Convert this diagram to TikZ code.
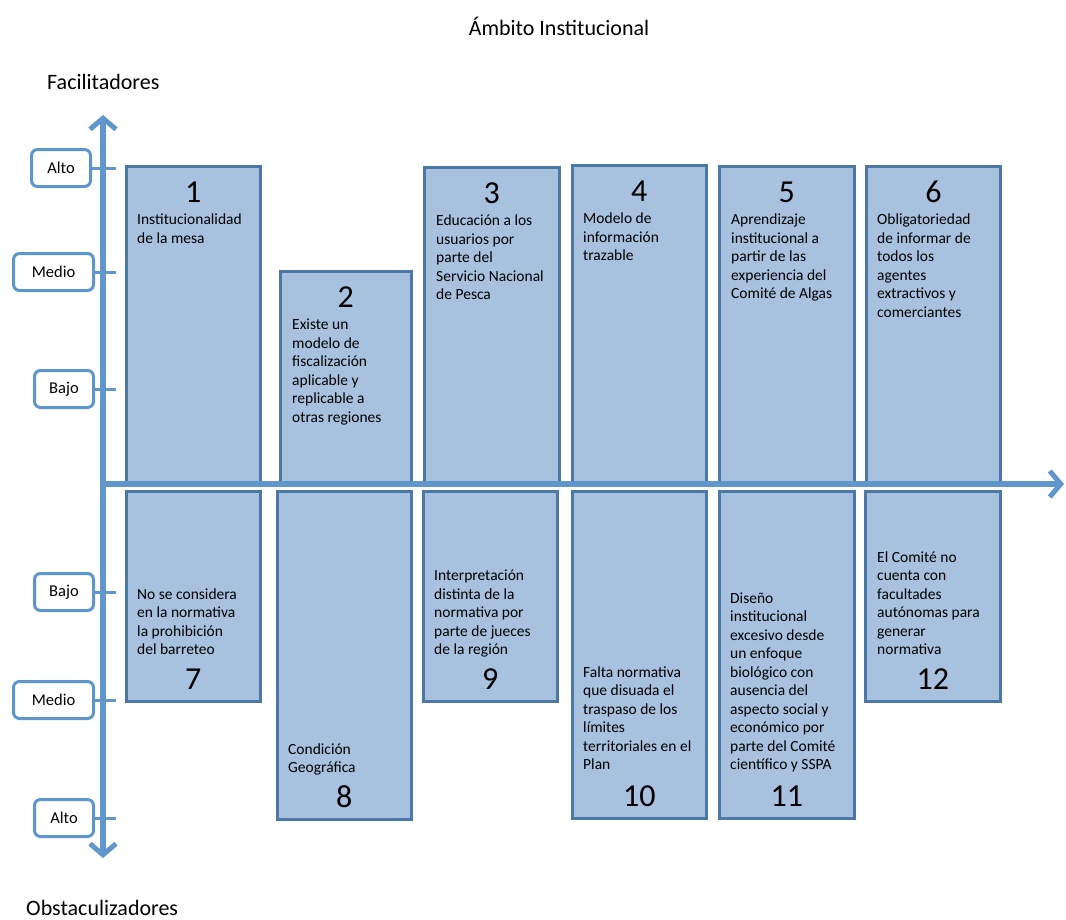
\documentclass[tikz,border=0pt]{standalone}
\usepackage{fontspec}
\setmainfont{Carlito}
\usetikzlibrary{arrows.meta}
\definecolor{axisblue}{HTML}{6196CC}
\definecolor{boxfill}{HTML}{A7C1DF}
\definecolor{boxline}{HTML}{4C78A5}
\definecolor{lblline}{HTML}{5C96CD}
\tikzset{
  box/.style={draw=boxline, line width=2.7pt, fill=boxfill, anchor=north west, inner sep=0pt},
  num/.style={font=\fontsize{32}{32}\selectfont, anchor=base, inner sep=0pt},
  toptxt/.style={font=\fontsize{15.5}{18.5}\selectfont, align=left, inner sep=0pt, anchor=north west},
  bottxt/.style={font=\fontsize{15.5}{18.5}\selectfont, align=left, inner sep=0pt, anchor=south west, text depth=0pt},
  lbl/.style={draw=lblline, line width=3pt, fill=white, rounded corners=6pt, font=\fontsize{16.5}{18}\selectfont, inner sep=0pt, anchor=north west},
  axis/.style={draw=axisblue, line width=5.5pt},
  tickline/.style={draw=axisblue, line width=3pt},
  plain/.style={font=\fontsize{22}{24}\selectfont, inner sep=0pt},
  barb/.tip={Straight Barb[length=11pt,width=26pt,line width=5pt]}
}
\begin{document}
\begin{tikzpicture}[x=1pt,y=-1pt]
\useasboundingbox (0,0) rectangle (1066,919);

% titles
\node[plain, anchor=base] (title) at (559,35) {Ámbito Institucional};
\node[plain, anchor=base west] (fac) at (47,89) {Facilitadores};
\node[plain, anchor=base west] (obs) at (26,915) {Obstaculizadores};

% top boxes
\node[box, minimum width=134pt, minimum height=317pt] (b1) at (125,165) {};
\node[box, minimum width=131pt, minimum height=212pt] (b2) at (279,270) {};
\node[box, minimum width=135pt, minimum height=316pt] (b3) at (423,166) {};
\node[box, minimum width=134pt, minimum height=318pt] (b4) at (571,164) {};
\node[box, minimum width=135pt, minimum height=317pt] (b5) at (718,165) {};
\node[box, minimum width=134pt, minimum height=317pt] (b6) at (865,165) {};

\foreach \b/\n in {b1/1,b2/2,b3/3,b4/4,b5/5,b6/6}{
  \node[num] (\b num) at ([yshift=-37.5pt]\b.north) {\n};
}
\node[toptxt] (t1) at ([xshift=12pt,yshift=-49pt]b1.north west) {Institucionalidad\\de la mesa};
\node[toptxt] (t2) at ([xshift=13pt,yshift=-49pt]b2.north west) {Existe un\\modelo de\\fiscalización\\aplicable y\\replicable a\\otras regiones};
\node[toptxt] (t3) at ([xshift=13pt,yshift=-49pt]b3.north west) {Educación a los\\usuarios por\\parte del\\Servicio Nacional\\de Pesca};
\node[toptxt] (t4) at ([xshift=12pt,yshift=-49pt]b4.north west) {Modelo de\\información\\trazable};
\node[toptxt] (t5) at ([xshift=13pt,yshift=-49pt]b5.north west) {Aprendizaje\\institucional a\\partir de las\\experiencia del\\Comité de Algas};
\node[toptxt] (t6) at ([xshift=12pt,yshift=-49pt]b6.north west) {Obligatoriedad\\de informar de\\todos los\\agentes\\extractivos y\\comerciantes};

% bottom boxes
\node[box, minimum width=134pt, minimum height=210pt] (b7) at (125,490) {};
\node[box, minimum width=134pt, minimum height=328pt] (b8) at (276,490) {};
\node[box, minimum width=134pt, minimum height=210pt] (b9) at (422,490) {};
\node[box, minimum width=134pt, minimum height=327pt] (b10) at (571,490) {};
\node[box, minimum width=135pt, minimum height=327pt] (b11) at (718,490) {};
\node[box, minimum width=135pt, minimum height=210pt] (b12) at (864,490) {};

\foreach \b/\n in {b7/7,b8/8,b9/9,b10/10,b11/11,b12/12}{
  \node[num] (\b num) at ([yshift=13pt]\b.south) {\n};
}
\node[bottxt] (t7) at ([xshift=12pt,yshift=48pt]b7.south west) {No se considera\\en la normativa\\la prohibición\\del barreteo};
\node[bottxt] (t8) at ([xshift=12pt,yshift=48pt]b8.south west) {Condición\\Geográfica};
\node[bottxt] (t9) at ([xshift=12pt,yshift=48pt]b9.south west) {Interpretación\\distinta de la\\normativa por\\parte de jueces\\de la región};
\node[bottxt] (t10) at ([xshift=12pt,yshift=50pt]b10.south west) {Falta normativa\\que disuada el\\traspaso de los\\límites\\territoriales en el\\Plan};
\node[bottxt] (t11) at ([xshift=12pt,yshift=50pt]b11.south west) {Diseño\\institucional\\excesivo desde\\un enfoque\\biológico con\\ausencia del\\aspecto social y\\económico por\\parte del Comité\\científico y SSPA};
\node[bottxt] (t12) at ([xshift=13pt,yshift=48pt]b12.south west) {El Comité no\\cuenta con\\facultades\\autónomas para\\generar\\normativa};

% axes
\coordinate (O) at (103,484);
\coordinate (ytop) at (103,115);
\coordinate (ybot) at (103,858);
\coordinate (xend) at (1064,484);
\draw[axis, {barb}-{barb}] (ybot) -- (ytop);
\draw[axis, -{barb}] (O) -- (xend);

% level labels
\coordinate (tx) at (116,0);
\node[lbl, minimum width=59pt, minimum height=37pt] (l1) at (30,148) {Alto};
\node[lbl, minimum width=80pt, minimum height=37pt] (l2) at (12,252) {Medio};
\node[lbl, minimum width=59pt, minimum height=37pt] (l3) at (33,369) {Bajo};
\node[lbl, minimum width=59pt, minimum height=37pt] (l4) at (33,572) {Bajo};
\node[lbl, minimum width=80pt, minimum height=37pt] (l5) at (12,680) {Medio};
\node[lbl, minimum width=59pt, minimum height=37pt] (l6) at (33,798) {Alto};
\foreach \l in {l1,l2,l3,l4,l5,l6}{
  \draw[tickline] (\l.east) -- (\l.east -| tx);
}
\end{tikzpicture}
\end{document}
